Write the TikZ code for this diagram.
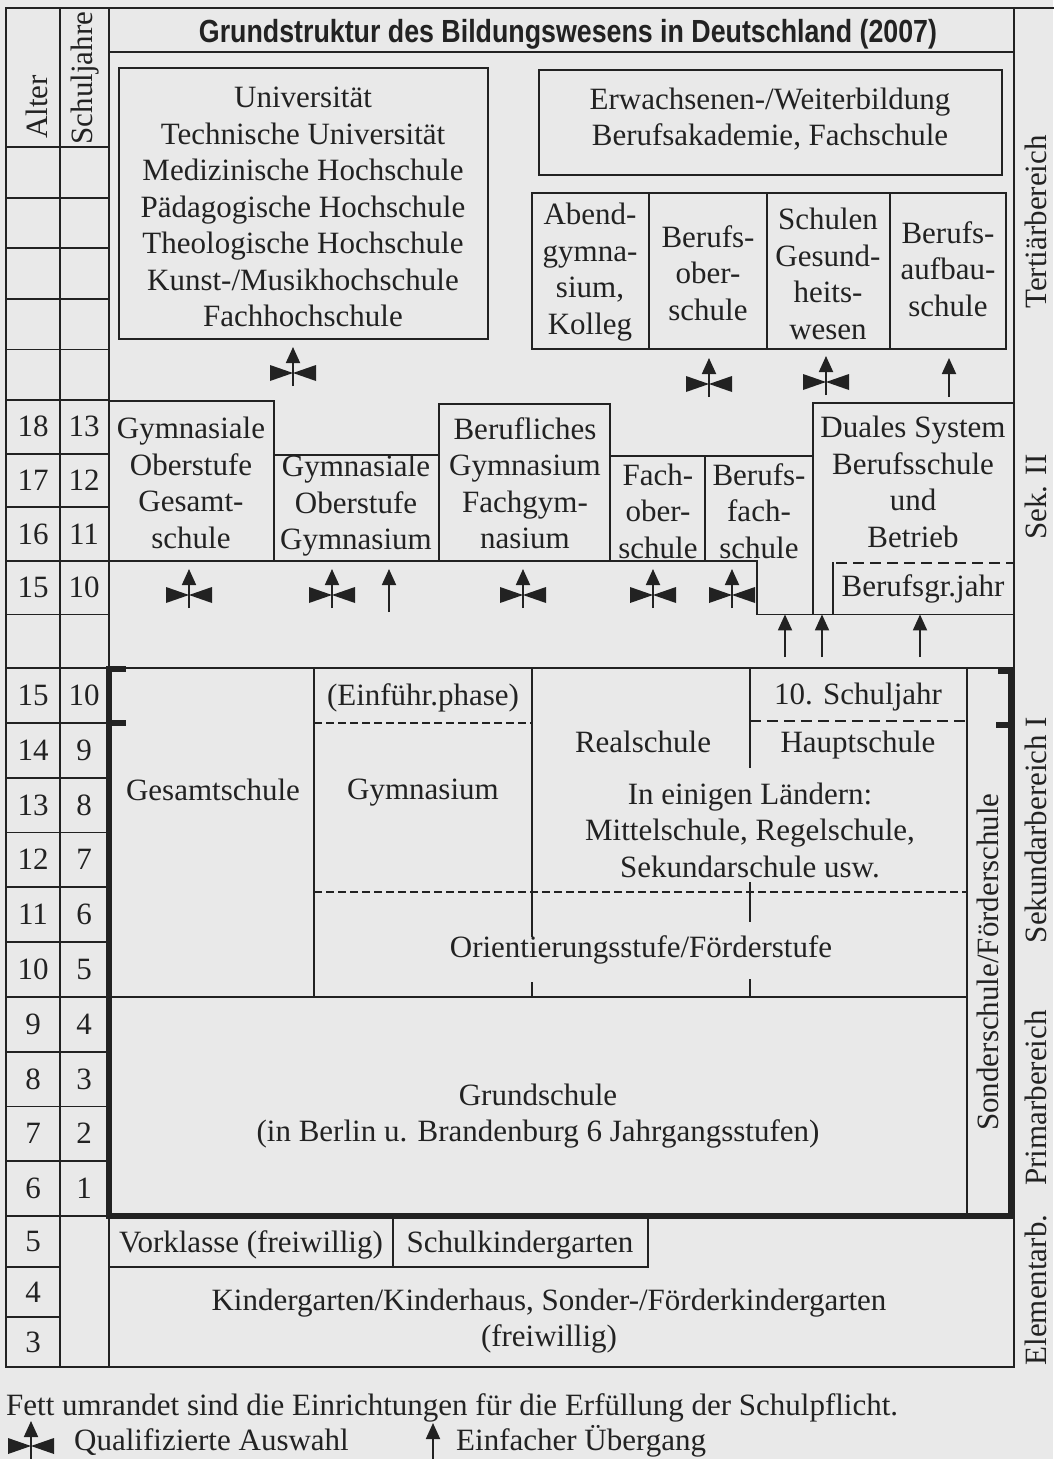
\documentclass[tikz,border=0pt]{standalone}
\usepackage{fontspec}
\usepackage{graphicx}
\setmainfont{Liberation Serif}
\newfontfamily\headfont{Liberation Sans}
\usetikzlibrary{arrows.meta}
\definecolor{paper}{RGB}{233,233,233}
\definecolor{ink}{RGB}{34,34,34}
\begin{document}
\begin{tikzpicture}[x=1pt,y=-1pt,
  thinrule/.style={draw=ink,line width=1.8pt,line cap=rect},
  heavyrule/.style={draw=ink,line width=6pt},
  finedash/.style={draw=ink,line width=1.4pt,dash pattern=on 8pt off 4pt},
  coarsedash/.style={draw=ink,line width=2.2pt,dash pattern=on 11pt off 6pt},
  lbl/.style={inner sep=0pt,text=ink,align=center,font=\fontsize{31}{36.5}\selectfont},
  plain/.style={inner sep=0pt,text=ink,font=\fontsize{31}{36.5}\selectfont},
  num/.style={plain,text height=20pt,text depth=0pt},
  side/.style={plain,rotate=90},
  sarrow/.style={draw=ink,line width=1.8pt,-{Triangle[length=16pt,width=14pt]}},
  bowtie/.pic={
    \fill[ink] (-23,-21) -- (-23,-5) -- (0,-13) -- cycle;
    \fill[ink] (23,-21) -- (23,-5) -- (0,-13) -- cycle;},
]
% page
\fill[paper] (0,0) rectangle (1053,1459);
\useasboundingbox (0,0) rectangle (1053,1459);

% outer frame and the two scale columns
\draw[thinrule] (6,8) -- (1053,8);
\draw[thinrule] (6,8) -- (6,1367) -- (1014,1367) -- (1014,8);
\draw[thinrule] (60,8) -- (60,1367);
\draw[thinrule] (109,8) -- (109,1367);
\draw[thinrule] (109,52) -- (1014,52);
\foreach \y in {147,197.6,248.2,298.8,349.4,400,453.6,507.2,560.8,614.4,668,
                722.8,777.6,832.4,887.2,942,996.8,1051.6,1106.4,1161.2,1216}
  {\draw[thinrule] (6,\y) -- (109,\y);}
\foreach \y in {1267,1317} {\draw[thinrule] (6,\y) -- (60,\y);}

% title and column heads
\node[inner sep=0pt,text=ink,anchor=base] (title) at (568,42)
  {\resizebox{738pt}{\height}{\headfont\bfseries\fontsize{32}{36}\selectfont
   Grundstruktur des Bildungswesens in Deutschland (2007)}};
\node[side] (alter) at (37,107) {Alter};
\node[side] (sjahre) at (85,78) {Schuljahre};

% age and school-year numbers
\foreach \y/\a/\s [count=\i] in {426.8/18/13,480.4/17/12,534/16/11,587.6/15/10,
    695.4/15/10,750.2/14/9,805/13/8,859.8/12/7,914.6/11/6,969.4/10/5,
    1024.2/9/4,1079/8/3,1133.8/7/2,1188.6/6/1}{
  \node[num] (alter\i) at (33,\y) {\a};
  \node[num] (sj\i) at (84,\y) {\s};
}
\node[num] (alter15) at (33,1241.5) {5};
\node[num] (alter16) at (33,1292) {4};
\node[num] (alter17) at (33,1342) {3};

% tertiary level
\draw[thinrule] (119,68) rectangle (488,339);
\draw[thinrule] (539,70) rectangle (1002,175);
\draw[thinrule] (532,193) rectangle (1006,349);
\draw[thinrule] (649,193) -- (649,349) (767,193) -- (767,349) (890,193) -- (890,349);
\node[lbl] (hoch) at (303,207) {Universität\\Technische Universität\\Medizinische Hochschule\\Pädagogische Hochschule\\Theologische Hochschule\\Kunst-/Musikhochschule\\Fachhochschule};
\node[lbl] (erw) at (770,119) {Erwachsenen-/Weiterbildung\\Berufsakademie, Fachschule};
\node[lbl] (abend) at (590,272) {Abend-\\gymna-\\sium,\\Kolleg};
\node[lbl] (bos) at (708,273) {Berufs-\\ober-\\schule};
\node[lbl] (gesund) at (828,274) {Schulen\\Gesund-\\heits-\\wesen};
\node[lbl] (bas) at (948,269) {Berufs-\\aufbau-\\schule};

% upper secondary level
\draw[thinrule] (109,401) -- (274,401) -- (274,455) -- (439,455) -- (439,404)
  -- (610,404) -- (610,456) -- (813,456) -- (813,403) -- (1014,403);
\draw[thinrule] (274,455) -- (274,560.8) (439,455) -- (439,560.8)
  (610,456) -- (610,560.8) (705,456) -- (705,560.8) (813,456) -- (813,614.4);
\draw[thinrule] (109,560.8) -- (757,560.8) -- (757,614.4) -- (1014,614.4);
\draw[coarsedash] (836,563) -- (1014,563);
\draw[thinrule] (833,563) -- (833,614.4);
\node[lbl] (gogs) at (191,483) {Gymnasiale\\Oberstufe\\Gesamt-\\schule};
\node[lbl] (gogy) at (356,506) {Gymnasiale\\Oberstufe\\Gymnasium};
\node[lbl] (bgym) at (525,483) {Berufliches\\Gymnasium\\Fachgym-\\nasium};
\node[lbl] (fos) at (658,511) {Fach-\\ober-\\schule};
\node[lbl] (bfs) at (759,511) {Berufs-\\fach-\\schule};
\node[lbl] (dual) at (913,482) {Duales System\\Berufsschule\\und\\Betrieb};
\node[lbl] (bgj) at (923,589) {Berufsgr.jahr};

% lower secondary level
\draw[thinrule] (109,668) -- (1014,668);
\draw[thinrule] (314,668) -- (314,996.8);
\draw[thinrule] (532,668) -- (532,936) (532,983) -- (532,996.8);
\draw[thinrule] (750,668) -- (750,767) (750,883) -- (750,921) (750,980) -- (750,996.8);
\draw[thinrule] (967,668) -- (967,1216);
\draw[thinrule] (109,996.8) -- (967,996.8);
\draw[finedash] (314,723) -- (532,723);
\draw[finedash] (314,892) -- (967,892);
\draw[coarsedash] (750,721) -- (967,721);
\node[lbl] (gesamt) at (213,790) {Gesamtschule};
\node[lbl] (einf) at (423,698) {(Einführ.phase)};
\node[lbl] (gym) at (423,793) {Gymnasium};
\node[lbl] (real) at (643,742) {Realschule};
\node[lbl] (zehn) at (858,697) {10. Schuljahr};
\node[lbl] (haupt) at (858,745) {Hauptschule};
\node[lbl] (laender) at (750,830) {In einigen Ländern:\\Mittelschule, Regelschule,\\Sekundarschule usw.};
\node[lbl] (orient) at (641,950) {Orientierungsstufe/Förderstufe};
\node[side] (sonder) at (988,962) {Sonderschule/Förderschule};

% primary and pre-school level
\node[lbl] (grund) at (538,1116) {Grundschule\\(in Berlin u. Brandenburg 6 Jahrgangsstufen)};
\draw[thinrule] (393,1216) -- (393,1267) (648,1216) -- (648,1267) (109,1267) -- (648,1267);
\node[lbl] (vork) at (251,1245) {Vorklasse (freiwillig)};
\node[lbl] (skg) at (520,1245) {Schulkindergarten};
\node[lbl] (kiga) at (549,1321) {Kindergarten/Kinderhaus, Sonder-/Förderkindergarten\\(freiwillig)};

% compulsory schooling: heavy outline with year marks
\draw[heavyrule,line join=miter] (109,668) -- (109,1216) -- (1011,1216) -- (1011,670);
\draw[heavyrule] (106,669) -- (126,669) (106,723) -- (126,723)
  (1014,671) -- (998,671) (1014,725) -- (996,725);

% level names
\node[side] (tert) at (1036,222) {Tertiärbereich};
\node[side] (sek2) at (1036,497) {Sek. II};
\node[side] (sek1) at (1036,830) {Sekundarbereich I};
\node[side] (prim) at (1036,1098) {Primarbereich};
\node[side] (elem) at (1036,1290) {Elementarb.};

% transitions
\foreach \x/\y [count=\i] in {293/386,709/397,826/395,189/608,332/608,523/608,653/608,732/608}{
  \coordinate (q\i) at (\x,\y);
  \draw[sarrow] (q\i) -- ++(0,-39);
  \pic at (q\i) {bowtie};
}
\coordinate (s1) at (949,397);
\draw[sarrow] (s1) -- ++(0,-39);
\coordinate (s2) at (389,612);
\draw[sarrow] (s2) -- ++(0,-43);
\foreach \x [count=\i from 3] in {785,822,920}{
  \coordinate (s\i) at (\x,657);
  \draw[sarrow] (s\i) -- ++(0,-42.6);
}

% legend
\node[plain,anchor=base west] (note) at (6,1415) {Fett umrandet sind die Einrichtungen für die Erfüllung der Schulpflicht.};
\coordinate (legq) at (31,1459);
\draw[sarrow] (legq) -- ++(0,-38);
\pic at (legq) {bowtie};
\node[plain,anchor=base west] (legqt) at (74,1450) {Qualifizierte Auswahl};
\coordinate (legs) at (433,1459);
\draw[sarrow] (legs) -- ++(0,-36);
\node[plain,anchor=base west] (legst) at (456,1450) {Einfacher Übergang};
\end{tikzpicture}
\end{document}
